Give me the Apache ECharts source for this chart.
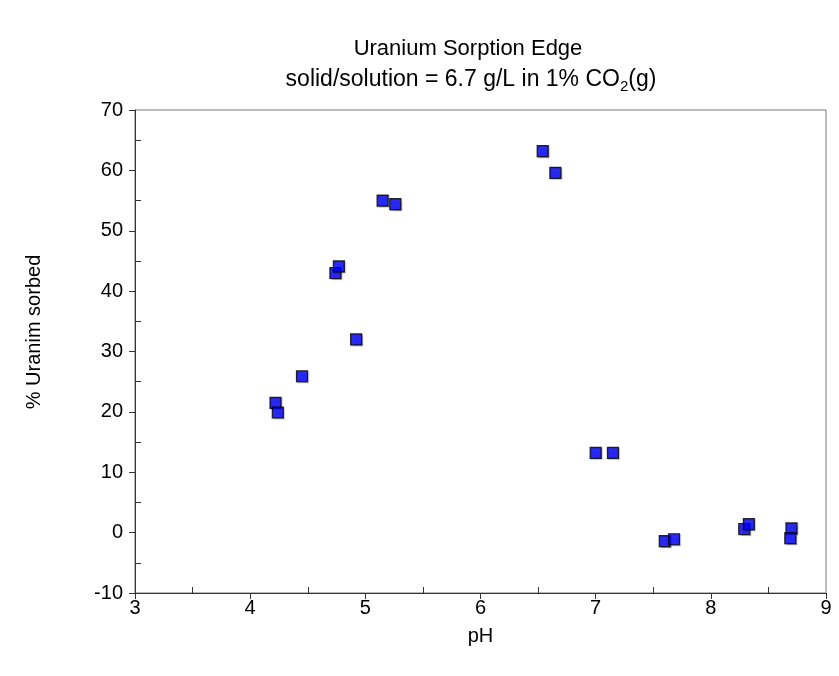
<!DOCTYPE html>
<html>
<head>
<meta charset="utf-8">
<script src="https://cdn.jsdelivr.net/npm/echarts@6/dist/echarts.min.js"></script>
<style>
  html, body { margin: 0; padding: 0; background: #fff; }
  #chart { width: 839px; height: 676px; }
</style>
</head>
<body>
<div id="chart"></div>
<script>
// Uranium sorption edge measurements: pH vs. percent sorbed
const pH = [4.22, 4.24, 4.45, 4.74, 4.77, 4.92, 5.15, 5.26, 6.54, 6.65, 7.00, 7.15, 7.60, 7.68, 8.29, 8.33, 8.70, 8.69];
const sorbed = [21.5, 19.9, 25.9, 43.0, 44.1, 32.0, 55.0, 54.4, 63.2, 59.6, 13.2, 13.2, -1.4, -1.1, 0.6, 1.4, 0.7, -0.9];
const xTicks = [3, 4, 5, 6, 7, 8, 9];
const yTicks = [-10, 0, 10, 20, 30, 40, 50, 60, 70];
const xMinor = [3.5, 4.5, 5.5, 6.5, 7.5, 8.5];
const yMinor = [-5, 5, 15, 25, 35, 45, 55, 65];

const points = pH.map((x, i) => [x, sorbed[i]]);
const font = 'Liberation Sans, Arial, sans-serif';
const axisColor = '#333';

const chart = echarts.init(document.getElementById('chart'), null, { renderer: 'canvas' });
chart.setOption({
  animation: false,
  backgroundColor: '#fff',
  title: [
    {
      text: 'Uranium Sorption Edge',
      left: 463, top: 33, textAlign: 'center',
      textStyle: { fontFamily: font, fontSize: 22, fontWeight: 'normal', color: '#000' }
    },
    {
      text: '{a|solid/solution = 6.7 g/L in 1% CO}{s|2}{a|(g)}',
      left: 466, top: 60, textAlign: 'center',
      textStyle: {
        fontWeight: 'normal',
        rich: {
          a: { fontFamily: font, fontSize: 23, fontWeight: 'normal', color: '#000' },
          s: { fontFamily: font, fontSize: 15, fontWeight: 'normal', color: '#000', padding: [14, 0, 0, 0] }
        }
      }
    }
  ],
  graphic: [
    {
      type: 'text',
      x: 34, y: 332, rotation: Math.PI / 2,
      style: {
        text: '% Uranim sorbed', fontFamily: font, fontSize: 20, fill: '#000',
        align: 'center', verticalAlign: 'middle'
      }
    }
  ],
  grid: {
    left: 135, right: 13, top: 110, bottom: 83,
    show: true, borderColor: '#777', borderWidth: 1
  },
  xAxis: [
    {
      type: 'value', min: 3, max: 9, interval: 1,
      name: 'pH', nameLocation: 'middle', nameGap: 33,
      nameTextStyle: { fontFamily: font, fontSize: 20, color: '#000' },
      axisLine: { show: true, onZero: false, lineStyle: { color: axisColor } },
      axisTick: { show: true, inside: false, length: 6, lineStyle: { color: axisColor } },
      axisLabel: { fontFamily: font, fontSize: 20, color: '#000', margin: 5,
                   customValues: xTicks },
      splitLine: { show: false }
    },
    {
      type: 'value', min: 3, max: 9, position: 'bottom',
      axisLine: { show: false, onZero: false },
      axisTick: { show: true, inside: true, length: 6, customValues: xMinor,
                  lineStyle: { color: axisColor } },
      axisLabel: { show: false },
      splitLine: { show: false }
    }
  ],
  yAxis: [
    {
      type: 'value', min: -10, max: 70, interval: 10,
      axisLine: { show: true, onZero: false, lineStyle: { color: axisColor } },
      axisTick: { show: true, inside: false, length: 6, lineStyle: { color: axisColor } },
      axisLabel: { fontFamily: font, fontSize: 20, color: '#000', margin: 12,
                   customValues: yTicks },
      splitLine: { show: false }
    },
    {
      type: 'value', min: -10, max: 70, position: 'left',
      axisLine: { show: false, onZero: false },
      axisTick: { show: true, inside: true, length: 6, customValues: yMinor,
                  lineStyle: { color: axisColor } },
      axisLabel: { show: false },
      splitLine: { show: false }
    }
  ],
  series: [
    {
      type: 'scatter',
      data: points,
      symbol: 'rect',
      symbolSize: 11,
      itemStyle: {
        color: '#0000ff', borderColor: '#000', borderWidth: 1.2,
        shadowColor: 'rgba(0,0,0,0.3)', shadowBlur: 1, shadowOffsetX: 1, shadowOffsetY: 1
      }
    }
  ]
});
</script>
</body>
</html>
